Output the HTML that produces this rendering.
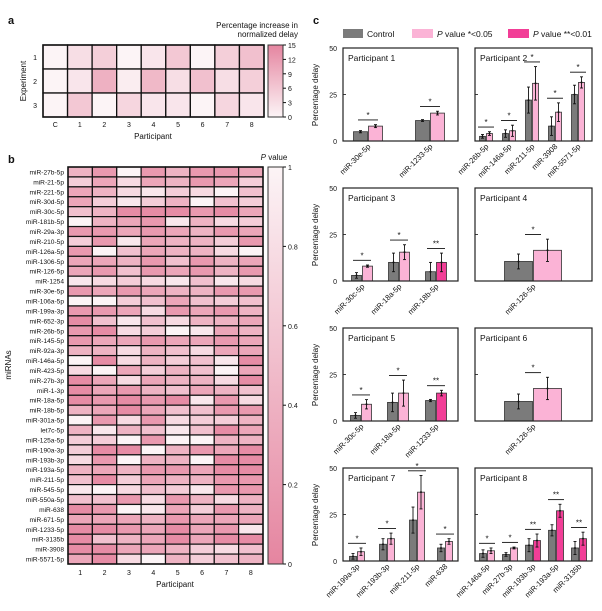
<!DOCTYPE html>
<html><head><meta charset="utf-8"><style>
body{margin:0;background:#fff;width:602px;height:611px;overflow:hidden}
svg{display:block;font-family:"Liberation Sans",sans-serif}
</style></head><body>
<svg id="s" width="602" height="611" xmlns="http://www.w3.org/2000/svg"></svg>
<script>
const S=document.getElementById('s');let h='';
function t(x,y,s,o){o=o||{};h+=`<text x="${x}" y="${y}" font-size="${o.fs||8}" text-anchor="${o.a||'start'}" ${o.tr?`transform="${o.tr}"`:''} fill="${o.c||'#111'}" ${o.fw?`font-weight="${o.fw}"`:''} ${o.fi?'font-style="italic"':''}>${s}</text>`;}
function r(x,y,w,hh,f,st,sw){h+=`<rect x="${x}" y="${y}" width="${w}" height="${hh}" fill="${f}" ${st?`stroke="${st}" stroke-width="${sw||1}"`:''}/>`;}
function l(x1,y1,x2,y2,c,w){h+=`<line x1="${x1}" y1="${y1}" x2="${x2}" y2="${y2}" stroke="${c||'#111'}" stroke-width="${w||1}"/>`;}
function mix(v){const a=[252,244,246],b=[229,133,160];return `rgb(${a.map((c,i)=>Math.round(c+(b[i]-c)*v)).join(',')})`;}
t(8,24,'a',{fs:11,fw:'bold'});t(8,163,'b',{fs:11,fw:'bold'});t(313,24,'c',{fs:11,fw:'bold'});
const A=[[0,3,5,0,2,6,0,5,7],[0,2,9,1,8,3,7,3,5],[0,6,0,4,2,2,0,4,2]];
const ax=43,aw=221/9,ay=45,ah=24;
A.forEach((row,i)=>row.forEach((v,j)=>r(ax+j*aw,ay+i*ah,aw,ah,mix(v/15),'#111',1.3)));
r(ax,ay,221,72,'none','#111',1.5);
['1','2','3'].forEach((s,i)=>t(37,ay+i*ah+15,s,{fs:7,a:'end'}));
t(26,81,'Experiment',{fs:8,a:'middle',tr:'rotate(-90 26 81)'});
['C','1','2','3','4','5','6','7','8'].forEach((s,j)=>t(ax+j*aw+aw/2,127,s,{fs:7,a:'middle'}));
t(153,139,'Participant',{fs:8,a:'middle'});
h+='<defs><linearGradient id="g" x1="0" y1="1" x2="0" y2="0"><stop offset="0" stop-color="'+mix(0)+'"/><stop offset="1" stop-color="'+mix(1)+'"/></linearGradient><linearGradient id="g2" x1="0" y1="0" x2="0" y2="1"><stop offset="0" stop-color="'+mix(0)+'"/><stop offset="1" stop-color="'+mix(1)+'"/></linearGradient></defs>';
r(268,45,15,72,'url(#g)','#333',1);
[15,12,9,6,3,0].forEach((v,i)=>{const y=45+i*72/5;l(283,y,286,y,'#111');t(288,y+3,v,{fs:7});});
t(298,28,'Percentage increase in',{fs:8,a:'end'});t(298,37,'normalized delay',{fs:8,a:'end'});
const names=['miR-27b-5p','miR-21-5p','miR-221-5p','miR-30d-5p','miR-30c-5p','miR-181b-5p','miR-29a-3p','miR-210-5p','miR-126a-5p','miR-1306-5p','miR-126-5p','miR-1254','miR-30e-5p','miR-106a-5p','miR-199a-3p','miR-652-3p','miR-26b-5p','miR-145-5p','miR-92a-3p','miR-146a-5p','miR-423-5p','miR-27b-3p','miR-1-3p','miR-18a-5p','miR-18b-5p','miR-301a-5p','let7c-5p','miR-125a-5p','miR-190a-3p','miR-193b-3p','miR-193a-5p','miR-211-5p','miR-545-5p','miR-550a-5p','miR-638','miR-671-5p','miR-1233-5p','miR-3135b','miR-3908','miR-5571-5p'];
const B=['57075776','36265763','65213204','63135043','45888786','05671523','77676576','37165537','70465520','66574756','67476757','12321412','76765577','00346434','77627675','84142556','78230165','76676676','55254266','08253418','20635406','86265528','86754654','87878172','56864477','07272335','51541486','33070055','38805768','27055088','56577688','48365577','10243177','44727525','87016375','66657666','88768671','84568688','88665324','68205345'];
const bx=68,bw=195/8,by=167,bh=397/40;
B.forEach((s,i)=>{for(let j=0;j<8;j++)r(bx+j*bw,by+i*bh,bw,bh,mix(+s[j]/8.5),'#111',1.2);t(64,by+i*bh+bh/2+2.5,names[i],{fs:6.6,a:'end'});});
r(bx,by,195,397,'none','#111',1.5);
for(let j=0;j<8;j++)t(bx+j*bw+bw/2,575,j+1,{fs:7,a:'middle'});
t(175,587,'Participant',{fs:8,a:'middle'});
t(11,365,'miRNAs',{fs:8,a:'middle',tr:'rotate(-90 11 365)'});
r(268,167,15,397,'url(#g2)','#333',1);
['1','0.8','0.6','0.4','0.2','0'].forEach((v,i)=>{const y=167+i*397/5;l(283,y,286,y,'#111');t(288,y+3,v,{fs:7});});
t(274,160,'<tspan font-style="italic">P</tspan> value',{fs:8,a:'middle'});
const G='#7b7b7b',P='#fbb3d6',H='#f23e97';
r(343,29,20,9,G);t(367,37,'Control',{fs:8.5});
r(412,29,21,9,P);t(437,37,'<tspan font-style="italic">P</tspan> value *&lt;0.05',{fs:8.5});
r(508,29,21,9,H);t(533,37,'<tspan font-style="italic">P</tspan> value **&lt;0.01',{fs:8.5});
const U=93/50;
function panel(x0,x1,y0,title,groups,bw,left,hw){
 const y0b=y0+93;
 if(left){[0,25,50].forEach(v=>{t(337,y0b-v*U+3,v,{fs:7,a:'end'});});
  t(318,y0+47,'Percentage delay',{fs:8,a:'middle',tr:`rotate(-90 318 ${y0+47})`});}
 l(x0,y0b-25*U,x0+3,y0b-25*U,'#111',0.8);
 groups.forEach(g=>{
  const [cx,gv,pv,hot,lab,ge,pe]=g;
  const gx=cx-bw-0.5,px=cx+0.5;
  r(gx,y0b-gv*U,bw,gv*U,G,'#333',0.8);
  r(px,y0b-pv*U,bw,pv*U,hot?H:P,'#333',0.8);
  [[gx+bw/2,gv,ge],[px+bw/2,pv,pe]].forEach(([x,v,e])=>{l(x,y0b-(v+e)*U,x,y0b-Math.max(0,v-e)*U,'#111',0.9);l(x-1.5,y0b-(v+e)*U,x+1.5,y0b-(v+e)*U,'#111',0.9);l(x-1.5,y0b-Math.max(0,v-e)*U,x+1.5,y0b-Math.max(0,v-e)*U,'#111',0.9);h+=`<circle cx="${x}" cy="${y0b-v*U}" r="1" fill="#111"/>`;});
  const top=Math.max(gv+ge,pv+pe)+2.5,yl=y0b-top*U;
  l(cx-hw,yl,cx+hw,yl,'#111',0.9);t(cx,yl-2,hot?'**':'*',{fs:8,a:'middle'});
  t(cx+3,y0b+6,lab,{fs:7.6,a:'end',tr:`rotate(-45 ${cx+3} ${y0b+6})`});
 });
 r(x0,y0,x1-x0,93,'none','#222',1.2);
 t(x0+5,y0+13,title,{fs:8.5});
}
panel(343,458,48,'Participant 1',[[368,5,8,0,'miR-30e-5p',0.6,0.8],[430,11,15,0,'miR-1233-5p',0.5,1]],14,1,10);
panel(475,592,48,'Participant 2',[[486,2.5,4,0,'miR-26b-5p',1,1],[509,4,5.5,0,'miR-146a-5p',2,3],[532,22,31,0,'miR-211-5p',7,9],[555,8,15.5,0,'miR-3908',5,5],[578,25,31.5,0,'miR-5571-5p',5,3]],6,0,8);
panel(343,458,188,'Participant 3',[[362,3,8,0,'miR-30c-5p',1.5,0.6],[399,10,15.5,0,'miR-18a-5p',5,4],[436,5,10,1,'miR-18b-5p',5,5]],10,1,9);
panel(475,592,188,'Participant 4',[[533,10.5,16.5,0,'miR-126-5p',4,6]],28,0,8);
panel(343,458,328,'Participant 5',[[361,3,9,0,'miR-30c-5p',1.5,2.5],[398,10,15,0,'miR-18a-5p',5,7],[436,11,15,1,'miR-1233-5p',0.6,1.5]],10,1,9);
panel(475,592,328,'Participant 6',[[533,10.5,17.5,0,'miR-126-5p',4,6]],28,0,8);
panel(343,458,468,'Participant 7',[[357,2.5,5,0,'miR-199a-3p',1.5,2],[387,9,12,0,'miR-193b-3p',3,3],[417,22,37,0,'miR-211-5p',7,9],[445,7,10.5,0,'miR-638',2,1.5]],7,1,9);
panel(475,592,468,'Participant 8',[[487,4,5.5,0,'miR-146a-5p',2,1.5],[510,3.5,7,0,'miR-27b-3p',1,0.5],[533,8.5,11,1,'miR-193b-3p',3.5,3.5],[556,16.5,27,1,'miR-193a-5p',3,3.5],[579,7,12,1,'miR-3135b',3.5,3.5]],7,0,8);
S.innerHTML=h;
</script>
</body></html>
